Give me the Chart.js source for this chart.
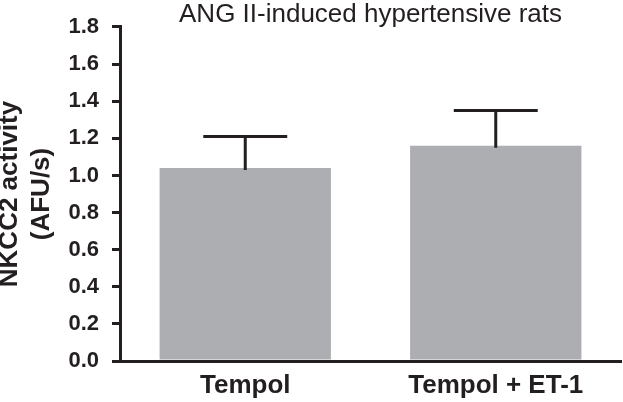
<!DOCTYPE html>
<html>
<head>
<meta charset="utf-8">
<script src="https://cdn.jsdelivr.net/npm/chart.js@4.4.0/dist/chart.umd.min.js"></script>
<style>
    html, body { margin: 0; padding: 0; background: #fff; }
    #wrap { width: 623px; height: 402px; }
</style>
</head>
<body>
<div id="wrap"><canvas id="myChart" width="623" height="402"></canvas></div>
<script>
var groups = ["Tempol", "Tempol + ET-1"];
var activity = [1.04, 1.16];
var activityErr = [0.17, 0.19];
var yTicks = [0, 0.2, 0.4, 0.6, 0.8, 1.0, 1.2, 1.4, 1.6, 1.8];

var ink = '#231f20';
var fontName = '"Liberation Sans", Arial, Helvetica, sans-serif';

// upper error bars, drawn from the bar elements and the y scale
var errorBars = {
    id: 'errorBars',
    afterDatasetsDraw: function(chart){
        var ctx = chart.ctx;
        var yScale = chart.scales.y;
        var meta = chart.getDatasetMeta(0);
        ctx.save();
        ctx.strokeStyle = ink;
        ctx.lineWidth = 3;
        for (var i = 0; i < meta.data.length; i++) {
            var bar = meta.data[i];
            var top = yScale.getPixelForValue(activity[i] + activityErr[i]);
            var half = bar.width * 0.245;
            ctx.beginPath();
            ctx.moveTo(bar.x, bar.y + 2);
            ctx.lineTo(bar.x, top);
            ctx.moveTo(bar.x - half, top);
            ctx.lineTo(bar.x + half, top);
            ctx.stroke();
        }
        ctx.restore();
    }
};

var ctx = document.getElementById('myChart').getContext('2d');
var chart = new Chart(ctx, {
    type: 'bar',
    data: {
        labels: groups,
        datasets: [{
            data: activity,
            backgroundColor: '#adaeb2',
            borderWidth: 0,
            categoryPercentage: 1,
            barPercentage: 0.684
        }]
    },
    options: {
        responsive: false,
        animation: false,
        layout: { padding: { left: 0, right: 2, top: 0, bottom: 0 } },
        plugins: {
            legend: { display: false },
            tooltip: { enabled: false },
            title: {
                display: true,
                fullSize: false,
                text: 'ANG II-induced hypertensive rats',
                color: ink,
                font: { family: fontName, size: 26, weight: 'normal', lineHeight: 0.923 },
                padding: { top: 3, bottom: 0 }
            }
        },
        scales: {
            x: {
                grid: { display: true, drawOnChartArea: false, drawTicks: false },
                border: { display: true, color: ink, width: 3 },
                ticks: {
                    color: ink,
                    padding: 9,
                    font: { family: fontName, size: 26, weight: 'bold' }
                },
                afterFit: function(scale){ scale.height = 41; }
            },
            y: {
                min: 0,
                max: 1.8,
                afterBuildTicks: function(scale){
                    scale.ticks = yTicks.map(function(v){ return { value: v }; });
                },
                grid: { drawOnChartArea: false, drawTicks: true, tickLength: 8, color: ink, lineWidth: 3 },
                border: { display: true, color: ink, width: 3 },
                ticks: {
                    color: ink,
                    padding: 13,
                    font: { family: fontName, size: 22, weight: 'bold' },
                    callback: function(v){ return Number(v).toFixed(1); }
                },
                title: {
                    display: true,
                    text: ['NKCC2 activity', '(AFU/s)'],
                    color: ink,
                    font: { family: fontName, size: 26, weight: 'bold', lineHeight: 1.23 },
                    padding: { top: -6, bottom: 0 }
                },
                afterFit: function(scale){ scale.width = 120; }
            }
        }
    },
    plugins: [errorBars]
});
</script>
</body>
</html>
